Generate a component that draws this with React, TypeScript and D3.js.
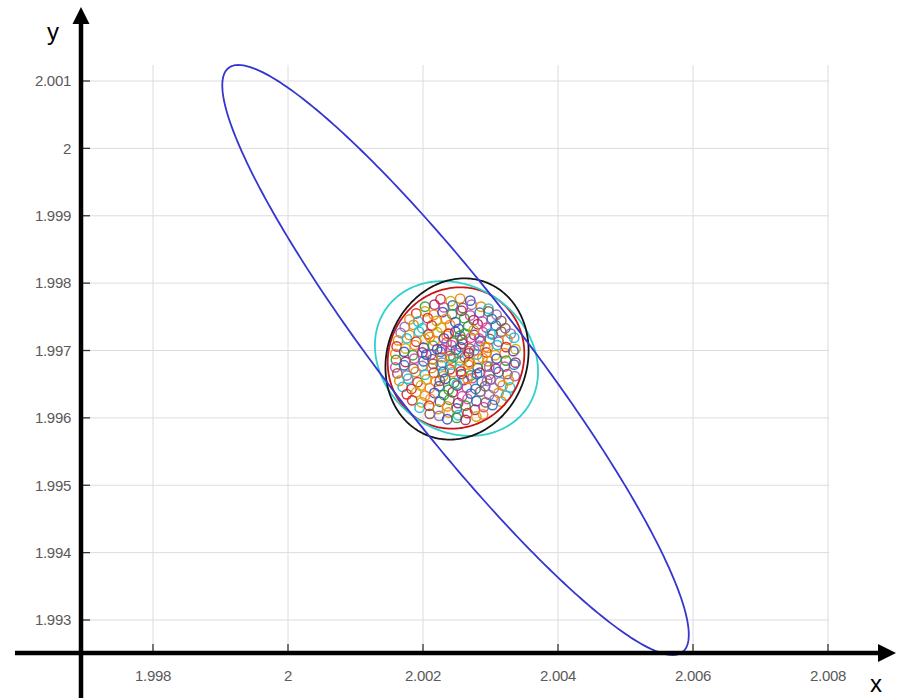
import React from "react";
import * as d3 from "d3";

const xTicks = [1.998, 2.0, 2.002, 2.004, 2.006, 2.008];
const xTickLabels = ["1.998", "2", "2.002", "2.004", "2.006", "2.008"];
const yTicks = [1.993, 1.994, 1.995, 1.996, 1.997, 1.998, 1.999, 2.0, 2.001];
const yTickLabels = ["1.993", "1.994", "1.995", "1.996", "1.997", "1.998", "1.999", "2", "2.001"];

// ellipses: [centerX, centerY, semiMajor, semiMinor, angleDeg]
const ellipseNames = ["red", "cyan", "black", "blue"];
const ellipseParams: [number, number, number, number, number][] = [
  [2.002489, 1.996889, 0.001067, 0.000993, 60],
  [2.002496, 1.996881, 0.001278, 0.00107, -36.6],
  [2.002504, 1.996874, 0.001216, 0.001038, 70],
  [2.002482, 1.996859, 0.005486, 0.001008, -52.2],
];
const ellipseColors = ["#c81414", "#2fd0d0", "#151515", "#3535cf"];

// sample points (x, y)
const points: [number, number][] = [
  [2.00226, 1.99776], [2.00241, 1.99773], [2.00255, 1.99777], [2.0027, 1.99774],
  [2.00203, 1.99765], [2.00217, 1.99768], [2.00231, 1.99764], [2.00244, 1.99767], [2.00259, 1.99763], [2.00272, 1.99768], [2.00286, 1.99765], [2.00297, 1.99762],
  [2.0019, 1.99755], [2.00203, 1.99758], [2.00216, 1.99753], [2.00229, 1.99757], [2.00243, 1.99754], [2.00257, 1.99759], [2.0027, 1.99752], [2.00284, 1.99756], [2.00297, 1.99758], [2.00309, 1.99753],
  [2.0018, 1.99746], [2.00193, 1.99743], [2.00207, 1.99748], [2.0022, 1.99744], [2.00234, 1.99747], [2.00248, 1.99742], [2.00261, 1.99748], [2.00275, 1.99745], [2.00288, 1.99743], [2.00302, 1.99747], [2.00316, 1.99744],
  [2.00173, 1.99735], [2.00186, 1.99738], [2.00199, 1.99733], [2.00213, 1.99737], [2.00227, 1.99734], [2.0024, 1.99738], [2.00253, 1.99732], [2.00267, 1.99736], [2.00281, 1.99739], [2.00294, 1.99734], [2.00308, 1.99737], [2.00322, 1.99733],
  [2.00167, 1.99726], [2.0018, 1.99723], [2.00194, 1.99728], [2.00208, 1.99724], [2.00221, 1.99727], [2.00235, 1.99722], [2.00248, 1.99728], [2.00262, 1.99725], [2.00276, 1.99723], [2.00289, 1.99727], [2.00303, 1.99724], [2.00316, 1.99728], [2.0033, 1.99725],
  [2.00163, 1.99715], [2.00176, 1.99718], [2.0019, 1.99713], [2.00203, 1.99717], [2.00217, 1.99714], [2.00231, 1.99718], [2.00244, 1.99712], [2.00258, 1.99716], [2.00271, 1.99719], [2.00285, 1.99714], [2.00299, 1.99717], [2.00312, 1.99713], [2.00325, 1.99716], [2.00335, 1.99719],
  [2.00161, 1.99706], [2.00174, 1.99703], [2.00188, 1.99708], [2.00201, 1.99704], [2.00215, 1.99707], [2.00228, 1.99702], [2.00242, 1.99708], [2.00256, 1.99705], [2.00269, 1.99703], [2.00283, 1.99707], [2.00296, 1.99704], [2.0031, 1.99708], [2.00323, 1.99705], [2.00337, 1.99702],
  [2.00159, 1.99695], [2.00172, 1.99698], [2.00185, 1.99693], [2.00199, 1.99697], [2.00212, 1.99694], [2.00226, 1.99698], [2.0024, 1.99692], [2.00253, 1.99696], [2.00267, 1.99699], [2.0028, 1.99694], [2.00294, 1.99697], [2.00307, 1.99693], [2.00321, 1.99696], [2.00334, 1.99699],
  [2.0016, 1.99686], [2.00174, 1.99683], [2.00187, 1.99688], [2.00201, 1.99684], [2.00214, 1.99687], [2.00228, 1.99682], [2.00241, 1.99688], [2.00255, 1.99685], [2.00268, 1.99683], [2.00282, 1.99687], [2.00296, 1.99684], [2.00309, 1.99688], [2.00323, 1.99685], [2.00337, 1.99682],
  [2.00159, 1.99675], [2.00172, 1.99678], [2.00186, 1.99673], [2.00199, 1.99677], [2.00213, 1.99674], [2.00227, 1.99678], [2.0024, 1.99672], [2.00254, 1.99676], [2.00267, 1.99679], [2.00281, 1.99674], [2.00294, 1.99677], [2.00308, 1.99673], [2.00321, 1.99676], [2.00335, 1.99679],
  [2.00162, 1.99666], [2.00176, 1.99663], [2.00189, 1.99668], [2.00203, 1.99664], [2.00216, 1.99667], [2.0023, 1.99662], [2.00244, 1.99668], [2.00257, 1.99665], [2.00271, 1.99663], [2.00284, 1.99667], [2.00298, 1.99664], [2.00312, 1.99668], [2.00325, 1.99665], [2.00336, 1.99662],
  [2.00165, 1.99655], [2.00178, 1.99658], [2.00192, 1.99653], [2.00205, 1.99657], [2.00219, 1.99654], [2.00233, 1.99658], [2.00246, 1.99652], [2.0026, 1.99656], [2.00273, 1.99659], [2.00287, 1.99654], [2.003, 1.99657], [2.00314, 1.99653], [2.00327, 1.99656],
  [2.0017, 1.99646], [2.00183, 1.99643], [2.00197, 1.99648], [2.0021, 1.99644], [2.00224, 1.99647], [2.00238, 1.99642], [2.00251, 1.99648], [2.00265, 1.99645], [2.00278, 1.99643], [2.00292, 1.99647], [2.00305, 1.99644], [2.00318, 1.99648], [2.00329, 1.99645],
  [2.00176, 1.99635], [2.0019, 1.99638], [2.00203, 1.99633], [2.00217, 1.99637], [2.00231, 1.99634], [2.00244, 1.99638], [2.00258, 1.99632], [2.00271, 1.99636], [2.00285, 1.99639], [2.00298, 1.99634], [2.00312, 1.99637], [2.00323, 1.99633],
  [2.00184, 1.99626], [2.00198, 1.99623], [2.00211, 1.99628], [2.00225, 1.99624], [2.00239, 1.99627], [2.00252, 1.99622], [2.00266, 1.99628], [2.00279, 1.99625], [2.00293, 1.99623], [2.00306, 1.99627], [2.00316, 1.99624],
  [2.00195, 1.99615], [2.00209, 1.99618], [2.00222, 1.99613], [2.00236, 1.99617], [2.0025, 1.99614], [2.00263, 1.99618], [2.00277, 1.99612], [2.0029, 1.99616], [2.00303, 1.99619],
  [2.0021, 1.99606], [2.00224, 1.99603], [2.00238, 1.99608], [2.00252, 1.99604], [2.00266, 1.99607], [2.00279, 1.99602], [2.00289, 1.99605],
  [2.00236, 1.99598], [2.0025, 1.996], [2.00263, 1.99597],
  [2.00235, 1.99712], [2.00249, 1.99701], [2.00262, 1.9969], [2.00276, 1.997], [2.00228, 1.9969], [2.00242, 1.99679], [2.00256, 1.99669], [2.0027, 1.99681],
  [2.00288, 1.99689], [2.00221, 1.99702], [2.00245, 1.9969], [2.00259, 1.9971], [2.00283, 1.99718], [2.0023, 1.99668], [2.00215, 1.9968], [2.00298, 1.99676],
  [2.00266, 1.99658], [2.0025, 1.9965], [2.00238, 1.99725], [2.00275, 1.9973], [2.00292, 1.99705], [2.00205, 1.99694], [2.00255, 1.99722], [2.00268, 1.99696],
  [2.0024, 1.997], [2.0028, 1.99665], [2.00225, 1.99655], [2.00295, 1.99655], [2.0021, 1.9972], [2.003, 1.99725],
];
const pointPalette = [
  "#d62728", "#1f77b4", "#ff7f0e", "#9467bd", "#2ca02c", "#17becf",
  "#d6409f", "#c9a800", "#8c564b", "#3b4cc0", "#e68a00", "#b02060",
];

const W = 898;
const H = 698;
const plotLeft = 82;
const plotRight = 829;
const plotTop = 65;
const plotBottom = 652;

export default function App() {
  const x = d3.scaleLinear().domain([1.998, 2.008]).range([153, 828]);
  const y = d3.scaleLinear().domain([1.993, 2.001]).range([620, 81]);

  const line = d3
    .line<[number, number]>()
    .x((d) => x(d[0]))
    .y((d) => y(d[1]))
    .curve(d3.curveLinearClosed);

  const ellipsePath = (p: [number, number, number, number, number]) => {
    const [cx, cy, a, b, deg] = p;
    const th = (deg * Math.PI) / 180;
    const pts: [number, number][] = d3.range(0, 360, 1).map((t) => {
      const r = (t * Math.PI) / 180;
      const u = a * Math.cos(r);
      const v = b * Math.sin(r);
      return [cx + u * Math.cos(th) - v * Math.sin(th), cy + u * Math.sin(th) + v * Math.cos(th)];
    });
    return line(pts) || "";
  };

  const tickFont = "'Liberation Sans', Arial, Helvetica, sans-serif";

  return (
    <svg
      width={W}
      height={H}
      style={{ position: "absolute", left: 0, top: 0, background: "#fff" }}
    >
      <rect x={0} y={0} width={W} height={H} fill="#fff" />
      {/* grid */}
      {xTicks.map((t, i) => (
        <line key={"gx" + i} x1={x(t)} x2={x(t)} y1={plotTop} y2={plotBottom} stroke="#dcdcdc" strokeWidth={1} />
      ))}
      {yTicks.map((t, i) => (
        <line key={"gy" + i} x1={plotLeft} x2={plotRight} y1={y(t)} y2={y(t)} stroke="#dcdcdc" strokeWidth={1} />
      ))}

      {/* points */}
      {points.map((p, i) => (
        <circle
          key={"p" + i}
          cx={x(p[0])}
          cy={y(p[1])}
          r={4.7}
          fill="none"
          stroke={pointPalette[(i * 7) % pointPalette.length]}
          strokeWidth={1.5}
          strokeOpacity={0.9}
        />
      ))}

      {/* ellipses */}
      {ellipseParams.map((p, i) => (
        <path
          key={ellipseNames[i]}
          d={ellipsePath(p)}
          fill="none"
          stroke={ellipseColors[i]}
          strokeWidth={1.8}
        />
      ))}

      {/* ticks */}
      {yTicks.map((t, i) => (
        <line key={"ty" + i} x1={83} x2={90} y1={y(t)} y2={y(t)} stroke="#333" strokeWidth={1.3} />
      ))}
      {xTicks.map((t, i) => (
        <line key={"tx" + i} x1={x(t)} x2={x(t)} y1={651} y2={644} stroke="#333" strokeWidth={1.3} />
      ))}

      {/* tick labels */}
      {yTicks.map((t, i) => (
        <text
          key={"ly" + i}
          x={71}
          y={y(t)}
          dy="0.35em"
          textAnchor="end"
          fontFamily={tickFont}
          fontSize={15}
          letterSpacing={-0.3}
          fill="#5a5a5a"
        >
          {yTickLabels[i]}
        </text>
      ))}
      {xTicks.map((t, i) => (
        <text
          key={"lx" + i}
          x={x(t)}
          y={681}
          textAnchor="middle"
          fontFamily={tickFont}
          fontSize={15}
          letterSpacing={-0.3}
          fill="#5a5a5a"
        >
          {xTickLabels[i]}
        </text>
      ))}

      {/* axes */}
      <line x1={81} x2={81} y1={18} y2={698} stroke="#000" strokeWidth={4.5} />
      <polygon points="81,7 72.5,24 89.5,24" fill="#000" />
      <line x1={15} x2={882} y1={653} y2={653} stroke="#000" strokeWidth={4.5} />
      <polygon points="896,653 878,644 878,662" fill="#000" />

      <text x={53} y={40} textAnchor="middle" fontFamily={tickFont} fontSize={24} fill="#000">
        y
      </text>
      <text x={876} y={692} textAnchor="middle" fontFamily={tickFont} fontSize={24} fill="#000">
        x
      </text>
    </svg>
  );
}
